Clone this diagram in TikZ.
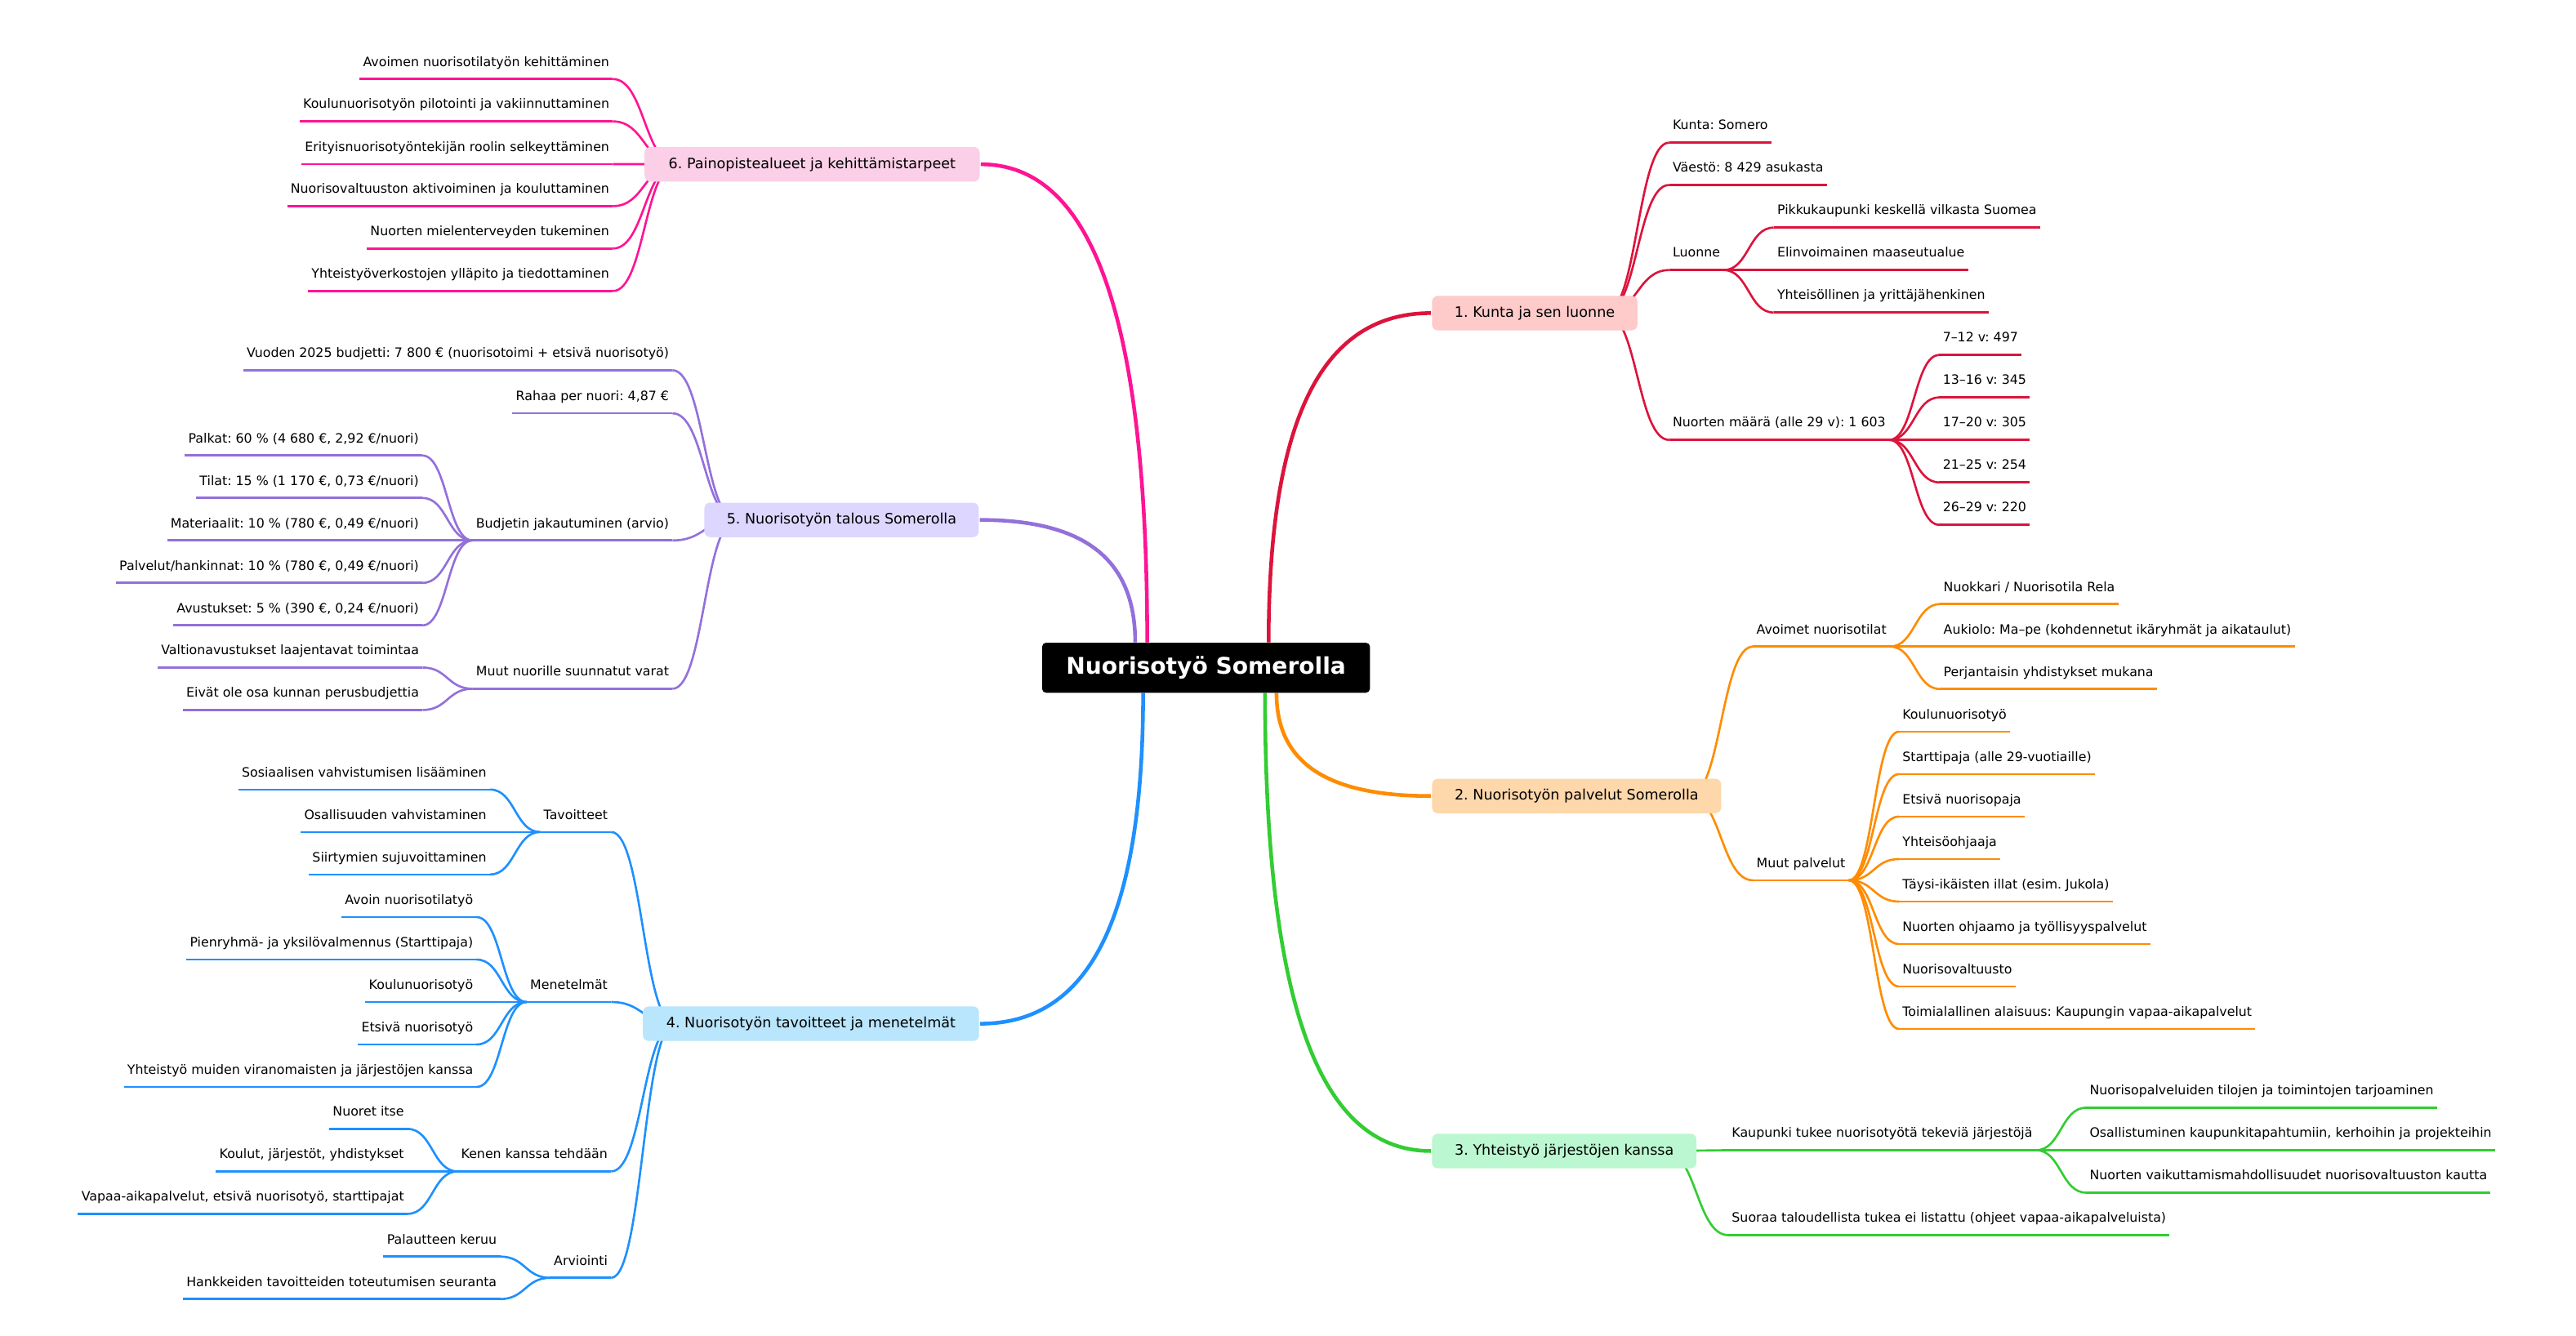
\documentclass[tikz,border=0pt]{standalone}
\usepackage{fontspec}
\setmainfont{DejaVu Sans}
\usetikzlibrary{positioning, backgrounds, calc}

\definecolor{redline}{HTML}{DC143C}
\definecolor{redbox}{HTML}{FECACA}
\definecolor{orangeline}{HTML}{FF8C00}
\definecolor{orangebox}{HTML}{FED7AA}
\definecolor{greenline}{HTML}{32CD32}
\definecolor{greenbox}{HTML}{BBF7D0}
\definecolor{blueline}{HTML}{1E90FF}
\definecolor{bluebox}{HTML}{BAE6FD}
\definecolor{purpleline}{HTML}{9370DB}
\definecolor{purplebox}{HTML}{DDD6FE}
\definecolor{pinkline}{HTML}{FF1493}
\definecolor{pinkbox}{HTML}{FBCFE8}

\newlength\px  \setlength\px{0.04023cm}
\newlength\rowh \setlength\rowh{25.85\px}

% horizontal s-curve from one anchor to another
\newcommand{\lnk}[2]{\draw let \p1=(#1), \p2=(#2) in
  (\p1) .. controls ({0.5*\x1+0.5*\x2},\y1) and ({0.5*\x1+0.5*\x2},\y2) .. (\p2);}

\begin{document}
\frenchspacing
\begin{tikzpicture}[
  x=0.04023cm, y=-0.04023cm,
  root/.style={fill=black, text=white, rounded corners=2.5\px,
    font=\fontsize{16}{19}\selectfont\bfseries,
    minimum width=199.6\px, minimum height=30.5\px, inner sep=0pt},
  topic/.style={rounded corners=3.5\px, text=black,
    font=\fontsize{10}{12}\selectfont,
    minimum height=21\px, inner xsep=4pt, inner ysep=0pt},
  leaf/.style={text=black, font=\fontsize{9}{11}\selectfont,
    inner xsep=1.5\px, inner ysep=0pt, text height=7pt, text depth=8.2pt,
    append after command={(\tikzlastnode.south west) edge (\tikzlastnode.south east)}},
  leafR/.style={leaf, anchor=south west},
  leafL/.style={leaf, anchor=south east},
  trunk/.style={line width=2.6pt},
  twigs/.style={line width=1.5pt}
]
\useasboundingbox (0,0) rectangle (1568,813.2);

%% --- centre ---
\node[root] (c) at (734.1,406.5) {Nuorisotyö Somerolla};

%% --- 1. Kunta ja sen luonne ---
\begin{scope}[twigs, color=redline]
\node[topic, fill=redbox, anchor=west, minimum width=125\px] (b1) at (871,190.6) {1. Kunta ja sen luonne};
\node[leafR] (kunta)  at (1016,86.8)  {Kunta: Somero};
\node[leafR] (vaesto) at (1016,112.6) {Väestö: 8 429 asukasta};
\node[leafR] (luonne) at (1016,164.4) {Luonne};
\node[leafR] (nuoret) at (1016,267.8) {Nuorten määrä (alle 29 v): 1 603};
\node[leafR] (pikku)  at ([xshift=30.5\px, yshift=\rowh]luonne.south east) {Pikkukaupunki keskellä vilkasta Suomea};
\node[leafR] (elin)   at ([xshift=30.5\px]luonne.south east) {Elinvoimainen maaseutualue};
\node[leafR] (yhteis) at ([xshift=30.5\px, yshift=-\rowh]luonne.south east) {Yhteisöllinen ja yrittäjähenkinen};
\node[leafR] (ika1) at ([xshift=30.5\px, yshift=2\rowh]nuoret.south east) {7–12 v: 497};
\node[leafR] (ika2) at ([xshift=30.5\px, yshift=\rowh]nuoret.south east) {13–16 v: 345};
\node[leafR] (ika3) at ([xshift=30.5\px]nuoret.south east) {17–20 v: 305};
\node[leafR] (ika4) at ([xshift=30.5\px, yshift=-\rowh]nuoret.south east) {21–25 v: 254};
\node[leafR] (ika5) at ([xshift=30.5\px, yshift=-2\rowh]nuoret.south east) {26–29 v: 220};
\end{scope}
\begin{scope}[on background layer={twigs, color=redline}]
\lnk{[xshift=-20\px]b1.east}{kunta.south west}
\lnk{[xshift=-20\px]b1.east}{vaesto.south west}
\lnk{[xshift=-20\px]b1.east}{luonne.south west}
\lnk{[xshift=-20\px]b1.east}{nuoret.south west}
\lnk{luonne.south east}{pikku.south west}
\lnk{luonne.south east}{elin.south west}
\lnk{luonne.south east}{yhteis.south west}
\lnk{nuoret.south east}{ika1.south west}
\lnk{nuoret.south east}{ika2.south west}
\lnk{nuoret.south east}{ika3.south west}
\lnk{nuoret.south east}{ika4.south west}
\lnk{nuoret.south east}{ika5.south west}
\end{scope}

%% --- 2. Nuorisotyön palvelut ---
\begin{scope}[twigs, color=orangeline]
\node[topic, fill=orangebox, anchor=west, minimum width=176\px] (b2) at (871,484.6) {2. Nuorisotyön palvelut Somerolla};
\node[leafR] (avoimet) at (1067,393.6) {Avoimet nuorisotilat};
\node[leafR] (muut)    at (1067,535.9) {Muut palvelut};
\node[leafR] (nuokkari) at ([xshift=30.5\px, yshift=\rowh]avoimet.south east) {Nuokkari / Nuorisotila Rela};
\node[leafR] (aukiolo)  at ([xshift=30.5\px]avoimet.south east) {Aukiolo: Ma–pe (kohdennetut ikäryhmät ja aikataulut)};
\node[leafR] (perj)     at ([xshift=30.5\px, yshift=-\rowh]avoimet.south east) {Perjantaisin yhdistykset mukana};
\node[leafR] (koulu)     at ([xshift=30.5\px, yshift=3.5\rowh]muut.south east) {Koulunuorisotyö};
\node[leafR] (startti)   at ([xshift=30.5\px, yshift=2.5\rowh]muut.south east) {Starttipaja (alle 29-vuotiaille)};
\node[leafR] (etsiva)    at ([xshift=30.5\px, yshift=1.5\rowh]muut.south east) {Etsivä nuorisopaja};
\node[leafR] (ohjaaja)   at ([xshift=30.5\px, yshift=0.5\rowh]muut.south east) {Yhteisöohjaaja};
\node[leafR] (taysi)     at ([xshift=30.5\px, yshift=-0.5\rowh]muut.south east) {Täysi-ikäisten illat (esim. Jukola)};
\node[leafR] (ohjaamo)   at ([xshift=30.5\px, yshift=-1.5\rowh]muut.south east) {Nuorten ohjaamo ja työllisyyspalvelut};
\node[leafR] (valtuusto) at ([xshift=30.5\px, yshift=-2.5\rowh]muut.south east) {Nuorisovaltuusto};
\node[leafR] (toimiala)  at ([xshift=30.5\px, yshift=-3.5\rowh]muut.south east) {Toimialallinen alaisuus: Kaupungin vapaa-aikapalvelut};
\end{scope}
\begin{scope}[on background layer={twigs, color=orangeline}]
\lnk{[xshift=-20\px]b2.east}{avoimet.south west}
\lnk{[xshift=-20\px]b2.east}{muut.south west}
\lnk{avoimet.south east}{nuokkari.south west}
\lnk{avoimet.south east}{aukiolo.south west}
\lnk{avoimet.south east}{perj.south west}
\lnk{muut.south east}{koulu.south west}
\lnk{muut.south east}{startti.south west}
\lnk{muut.south east}{etsiva.south west}
\lnk{muut.south east}{ohjaaja.south west}
\lnk{muut.south east}{taysi.south west}
\lnk{muut.south east}{ohjaamo.south west}
\lnk{muut.south east}{valtuusto.south west}
\lnk{muut.south east}{toimiala.south west}
\end{scope}

%% --- 3. Yhteistyö järjestöjen kanssa ---
\begin{scope}[twigs, color=greenline]
\node[topic, fill=greenbox, anchor=west, minimum width=161\px] (b3) at (871,700.7) {3. Yhteistyö järjestöjen kanssa};
\node[leafR] (tukee)  at (1052,700.2) {Kaupunki tukee nuorisotyötä tekeviä järjestöjä};
\node[leafR] (suoraa) at (1052,751.9) {Suoraa taloudellista tukea ei listattu (ohjeet vapaa-aikapalveluista)};
\node[leafR] (tarjo)  at ([xshift=30.5\px, yshift=\rowh]tukee.south east) {Nuorisopalveluiden tilojen ja toimintojen tarjoaminen};
\node[leafR] (osall)  at ([xshift=30.5\px]tukee.south east) {Osallistuminen kaupunkitapahtumiin, kerhoihin ja projekteihin};
\node[leafR] (vaikut) at ([xshift=30.5\px, yshift=-\rowh]tukee.south east) {Nuorten vaikuttamismahdollisuudet nuorisovaltuuston kautta};
\end{scope}
\begin{scope}[on background layer={twigs, color=greenline}]
\lnk{[xshift=-20\px]b3.east}{tukee.south west}
\lnk{[xshift=-20\px]b3.east}{suoraa.south west}
\lnk{tukee.south east}{tarjo.south west}
\lnk{tukee.south east}{osall.south west}
\lnk{tukee.south east}{vaikut.south west}
\end{scope}

%% --- 4. Tavoitteet ja menetelmät ---
\begin{scope}[twigs, color=blueline]
\node[topic, fill=bluebox, anchor=east, minimum width=204.6\px] (b4) at (596.6,623.2) {4. Nuorisotyön tavoitteet ja menetelmät};
\node[leafL] (tavoit) at (372,506.5) {Tavoitteet};
\node[leafL] (menet)  at (372,610)   {Menetelmät};
\node[leafL] (kenen)  at (372,713.1) {Kenen kanssa tehdään};
\node[leafL] (arvio)  at (372,777.9) {Arviointi};
\node[leafL] (sosi)    at ([xshift=-30.5\px, yshift=\rowh]tavoit.south west) {Sosiaalisen vahvistumisen lisääminen};
\node[leafL] (osallis) at ([xshift=-30.5\px]tavoit.south west) {Osallisuuden vahvistaminen};
\node[leafL] (siirt)   at ([xshift=-30.5\px, yshift=-\rowh]tavoit.south west) {Siirtymien sujuvoittaminen};
\node[leafL] (avoinM)  at ([xshift=-30.5\px, yshift=2\rowh]menet.south west) {Avoin nuorisotilatyö};
\node[leafL] (pienr)   at ([xshift=-30.5\px, yshift=\rowh]menet.south west) {Pienryhmä- ja yksilövalmennus (Starttipaja)};
\node[leafL] (kouluM)  at ([xshift=-30.5\px]menet.south west) {Koulunuorisotyö};
\node[leafL] (etsivaM) at ([xshift=-30.5\px, yshift=-\rowh]menet.south west) {Etsivä nuorisotyö};
\node[leafL] (yhtyo)   at ([xshift=-30.5\px, yshift=-2\rowh]menet.south west) {Yhteistyö muiden viranomaisten ja järjestöjen kanssa};
\node[leafL] (itse)    at ([xshift=-30.5\px, yshift=\rowh]kenen.south west) {Nuoret itse};
\node[leafL] (koulut)  at ([xshift=-30.5\px]kenen.south west) {Koulut, järjestöt, yhdistykset};
\node[leafL] (vapaa)   at ([xshift=-30.5\px, yshift=-\rowh]kenen.south west) {Vapaa-aikapalvelut, etsivä nuorisotyö, starttipajat};
\node[leafL] (palaute) at ([xshift=-30.5\px, yshift=0.5\rowh]arvio.south west) {Palautteen keruu};
\node[leafL] (hankk)   at ([xshift=-30.5\px, yshift=-0.5\rowh]arvio.south west) {Hankkeiden tavoitteiden toteutumisen seuranta};
\end{scope}
\begin{scope}[on background layer={twigs, color=blueline}]
\lnk{[xshift=20\px]b4.west}{tavoit.south east}
\lnk{[xshift=20\px]b4.west}{menet.south east}
\lnk{[xshift=20\px]b4.west}{kenen.south east}
\lnk{[xshift=20\px]b4.west}{arvio.south east}
\lnk{tavoit.south west}{sosi.south east}
\lnk{tavoit.south west}{osallis.south east}
\lnk{tavoit.south west}{siirt.south east}
\lnk{menet.south west}{avoinM.south east}
\lnk{menet.south west}{pienr.south east}
\lnk{menet.south west}{kouluM.south east}
\lnk{menet.south west}{etsivaM.south east}
\lnk{menet.south west}{yhtyo.south east}
\lnk{kenen.south west}{itse.south east}
\lnk{kenen.south west}{koulut.south east}
\lnk{kenen.south west}{vapaa.south east}
\lnk{arvio.south west}{palaute.south east}
\lnk{arvio.south west}{hankk.south east}
\end{scope}

%% --- 5. Talous ---
\begin{scope}[twigs, color=purpleline]
\node[topic, fill=purplebox, anchor=east, minimum width=167\px] (b5) at (596.4,316.5) {5. Nuorisotyön talous Somerolla};
\node[leafL] (budj25) at (409.3,225.4) {Vuoden 2025 budjetti: 7 800 € (nuorisotoimi + etsivä nuorisotyö)};
\node[leafL] (rahaa)  at (409.3,251.6) {Rahaa per nuori: 4,87 €};
\node[leafL] (jakau)  at (409.3,329)   {Budjetin jakautuminen (arvio)};
\node[leafL] (varat)  at (409.3,419.3) {Muut nuorille suunnatut varat};
\node[leafL] (palkat) at ([xshift=-30.5\px, yshift=2\rowh]jakau.south west) {Palkat: 60 \% (4 680 €, 2,92 €/nuori)};
\node[leafL] (tilaL)  at ([xshift=-30.5\px, yshift=\rowh]jakau.south west) {Tilat: 15 \% (1 170 €, 0,73 €/nuori)};
\node[leafL] (materi) at ([xshift=-30.5\px]jakau.south west) {Materiaalit: 10 \% (780 €, 0,49 €/nuori)};
\node[leafL] (palvel) at ([xshift=-30.5\px, yshift=-\rowh]jakau.south west) {Palvelut/hankinnat: 10 \% (780 €, 0,49 €/nuori)};
\node[leafL] (avust)  at ([xshift=-30.5\px, yshift=-2\rowh]jakau.south west) {Avustukset: 5 \% (390 €, 0,24 €/nuori)};
\node[leafL] (valtion) at ([xshift=-30.5\px, yshift=0.5\rowh]varat.south west) {Valtionavustukset laajentavat toimintaa};
\node[leafL] (eivat)   at ([xshift=-30.5\px, yshift=-0.5\rowh]varat.south west) {Eivät ole osa kunnan perusbudjettia};
\end{scope}
\begin{scope}[on background layer={twigs, color=purpleline}]
\lnk{[xshift=20\px]b5.west}{budj25.south east}
\lnk{[xshift=20\px]b5.west}{rahaa.south east}
\lnk{[xshift=20\px]b5.west}{jakau.south east}
\lnk{[xshift=20\px]b5.west}{varat.south east}
\lnk{jakau.south west}{palkat.south east}
\lnk{jakau.south west}{tilaL.south east}
\lnk{jakau.south west}{materi.south east}
\lnk{jakau.south west}{palvel.south east}
\lnk{jakau.south west}{avust.south east}
\lnk{varat.south west}{valtion.south east}
\lnk{varat.south west}{eivat.south east}
\end{scope}

%% --- 6. Painopistealueet ---
\begin{scope}[twigs, color=pinkline]
\node[topic, fill=pinkbox, anchor=east, minimum width=204\px] (b6) at (597,100) {6. Painopistealueet ja kehittämistarpeet};
\node[leafL] (kehit)    at (373,48.1)  {Avoimen nuorisotilatyön kehittäminen};
\node[leafL] (pilot)    at (373,73.9)  {Koulunuorisotyön pilotointi ja vakiinnuttaminen};
\node[leafL] (erityis)  at (373,99.9)  {Erityisnuorisotyöntekijän roolin selkeyttäminen};
\node[leafL] (aktiv)    at (373,125.5) {Nuorisovaltuuston aktivoiminen ja kouluttaminen};
\node[leafL] (mieli)    at (373,151.3) {Nuorten mielenterveyden tukeminen};
\node[leafL] (verkosto) at (373,177.2) {Yhteistyöverkostojen ylläpito ja tiedottaminen};
\end{scope}
\begin{scope}[on background layer={twigs, color=pinkline}]
\lnk{[xshift=20\px]b6.west}{kehit.south east}
\lnk{[xshift=20\px]b6.west}{pilot.south east}
\lnk{[xshift=20\px]b6.west}{erityis.south east}
\lnk{[xshift=20\px]b6.west}{aktiv.south east}
\lnk{[xshift=20\px]b6.west}{mieli.south east}
\lnk{[xshift=20\px]b6.west}{verkosto.south east}
\end{scope}

%% --- trunks from the centre ---
\begin{scope}[on background layer={trunk}]
\draw[redline]    ([xshift=38.1\px]c.north)  to[out=90, in=180, out distance=140.5\px, in distance=64.2\px] (b1.west);
\draw[orangeline] ([xshift=42.9\px]c.south)  to[out=-90, in=180, out distance=44\px, in distance=61.1\px] (b2.west);
\draw[greenline]  ([xshift=35.9\px]c.south)  to[out=-90, in=180, out distance=195.2\px, in distance=65.7\px] (b3.west);
\draw[blueline]   ([xshift=-38.3\px]c.south) to[out=-90, in=0, out distance=141\px, in distance=64.5\px] (b4.east);
\draw[purpleline] ([xshift=-43.1\px]c.north) to[out=90, in=0, out distance=52.4\px, in distance=61.5\px] (b5.east);
\draw[pinkline]   ([xshift=-35.8\px]c.north) to[out=90, in=0, out distance=203.9\px, in distance=65.8\px] (b6.east);
\end{scope}

\end{tikzpicture}
\end{document}
